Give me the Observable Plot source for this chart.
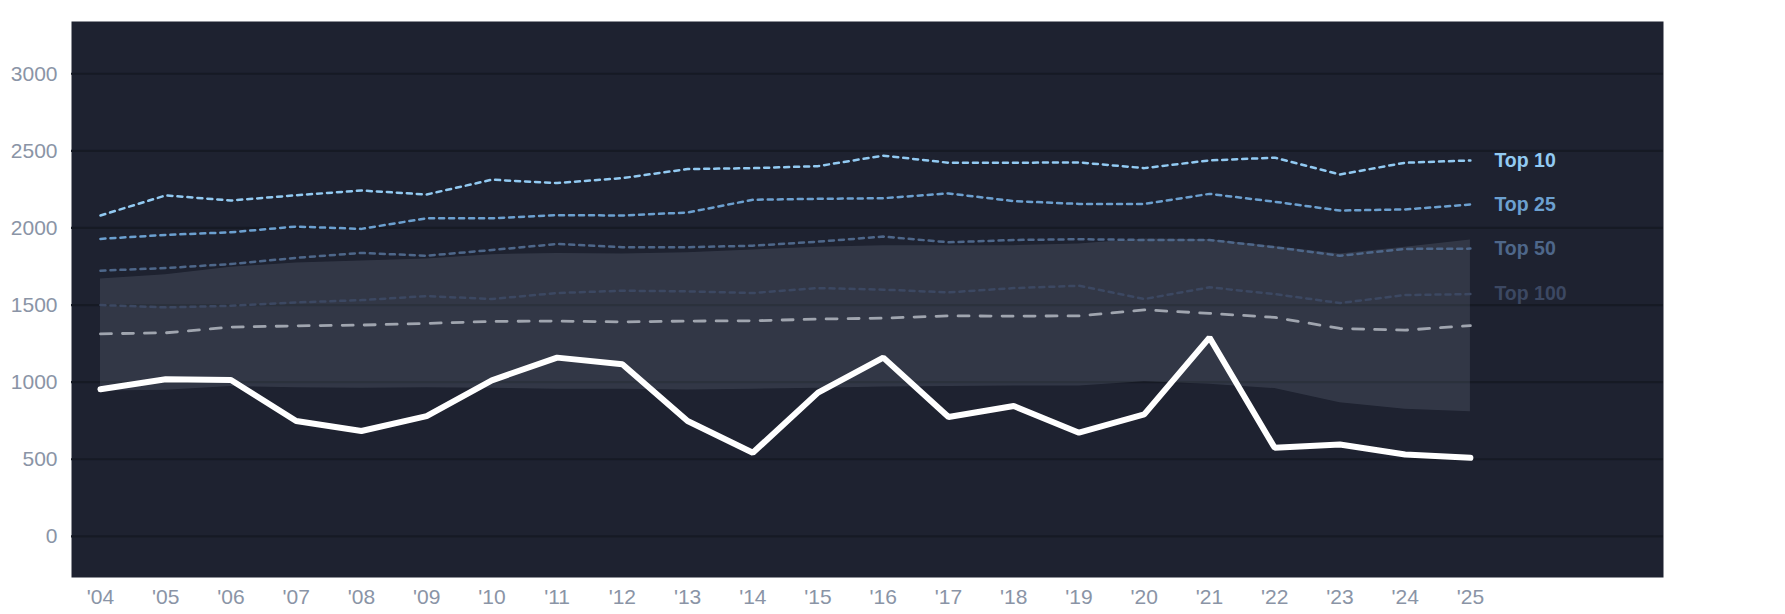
<!DOCTYPE html>
<html>
<head>
<meta charset="utf-8">
<script src="https://cdn.jsdelivr.net/npm/d3@7"></script>
<script src="https://cdn.jsdelivr.net/npm/@observablehq/plot@0.6"></script>
<style>
  html, body { margin: 0; padding: 0; background: #ffffff; }
  #chart svg { display: block; }
</style>
</head>
<body>
<div id="chart"></div>
<script>
const years = d3.range(2004, 2026);
const top10 = [2081, 2211, 2178, 2212, 2243, 2217, 2313, 2291, 2323, 2382, 2388, 2401, 2469, 2423, 2423, 2425, 2388, 2438, 2456, 2347, 2423, 2438];
const top25 = [1929, 1955, 1972, 2009, 1994, 2063, 2063, 2083, 2081, 2100, 2183, 2189, 2193, 2224, 2174, 2156, 2156, 2221, 2170, 2113, 2120, 2152];
const top50 = [1723, 1740, 1766, 1806, 1838, 1820, 1857, 1896, 1875, 1875, 1885, 1911, 1944, 1907, 1922, 1927, 1922, 1922, 1875, 1820, 1864, 1866];
const top100 = [1500, 1485, 1495, 1517, 1532, 1558, 1539, 1578, 1593, 1589, 1578, 1610, 1600, 1582, 1610, 1625, 1539, 1615, 1571, 1513, 1565, 1571];
const median = [1313, 1320, 1357, 1365, 1370, 1381, 1394, 1396, 1391, 1396, 1398, 1409, 1415, 1430, 1428, 1430, 1469, 1446, 1420, 1348, 1337, 1367];
const highlight = [954, 1019, 1014, 748, 683, 780, 1012, 1159, 1116, 748, 542, 932, 1159, 774, 845, 672, 791, 1289, 574, 596, 531, 509];
const bandHigh = [1669, 1697, 1745, 1773, 1786, 1799, 1827, 1835, 1831, 1840, 1857, 1875, 1885, 1885, 1885, 1896, 1929, 1925, 1880, 1831, 1875, 1922];
const bandLow = [943, 947, 971, 964, 960, 964, 960, 954, 954, 949, 954, 960, 969, 972, 975, 975, 1003, 986, 958, 867, 824, 808];
const yTicks = [0, 500, 1000, 1500, 2000, 2500, 3000];
const seriesNames = ["Top 10", "Top 25", "Top 50", "Top 100"];
const seriesColors = ["#92caf2", "#6ca0d0", "#4e678a", "#3c4862"];

const seriesValues = [top10, top25, top50, top100];
const tiers = seriesNames.flatMap((name, s) =>
  years.map((year, i) => ({ year, value: seriesValues[s][i], name })));
const band = years.map((year, i) => ({ year, lo: bandLow[i], hi: bandHigh[i] }));
const med = years.map((year, i) => ({ year, value: median[i] }));
const hl = years.map((year, i) => ({ year, value: highlight[i] }));
const lastLabels = seriesNames.map((name, s) => ({
  year: years[years.length - 1], value: seriesValues[s][years.length - 1], name, color: seriesColors[s]
}));

const font = "'Liberation Sans', Arial, Helvetica, sans-serif";

const chart = Plot.plot({
  width: 1785,
  height: 614,
  marginLeft: 71,
  marginRight: 122,
  marginTop: 21,
  marginBottom: 37,
  style: { fontFamily: font, background: "#ffffff" },
  x: { domain: [2003.556, 2027.96], label: null },
  y: { domain: [-267, 3339], label: null },
  color: { domain: seriesNames, range: seriesColors },
  marks: [
    Plot.frame({ fill: "#1e2230", stroke: null }),
    Plot.ruleY(yTicks, { stroke: "#161a24", strokeWidth: 2.2 }),
    Plot.areaY(band, { x: "year", y1: "lo", y2: "hi", fill: "#aab4cc", fillOpacity: 0.15 }),
    Plot.line(tiers, { x: "year", y: "value", z: "name", stroke: "name", strokeWidth: 2.5, strokeDasharray: "5,5" }),
    Plot.line(med, { x: "year", y: "value", stroke: "#a0a5af", strokeWidth: 2.8, strokeDasharray: "11,11" }),
    Plot.line(hl, { x: "year", y: "value", stroke: "#ffffff", strokeWidth: 6, strokeLinejoin: "miter" }),
    Plot.text(lastLabels, { x: "year", y: "value", text: "name", fill: "color", dx: 24, textAnchor: "start", fontWeight: "bold", fontSize: 19.5 }),
    Plot.axisY(yTicks, { tickSize: 0, tickPadding: 14, fontSize: 21, fill: "#8a94a6", label: null,
      tickFormat: d => String(d) }),
    Plot.axisX(years, { tickSize: 0, tickPadding: 12, fontSize: 21, fill: "#8a94a6", label: null,
      tickFormat: d => "'" + String(d).slice(2) })
  ]
});
document.getElementById("chart").appendChild(chart);
</script>
</body>
</html>
